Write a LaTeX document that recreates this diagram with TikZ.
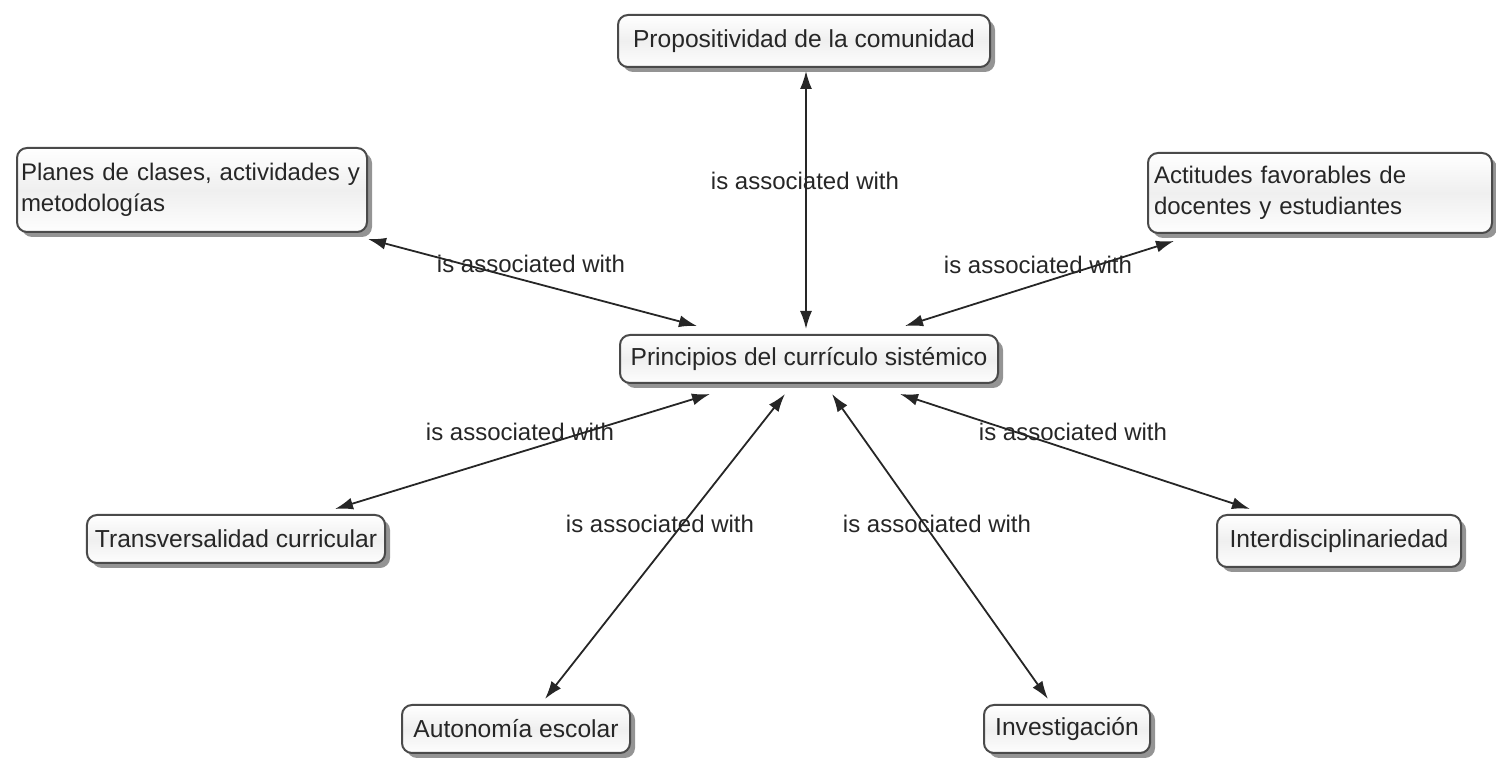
\documentclass[tikz,border=0pt]{standalone}
\usepackage{fontspec}
\setmainfont{Liberation Sans}
\usetikzlibrary{arrows.meta,shadows,calc}
\definecolor{boxline}{HTML}{4A4A4A}
\definecolor{boxfill}{HTML}{EFEFEF}
\definecolor{inktext}{HTML}{262626}
\tikzset{
  concept/.style={draw=boxline, line width=1pt, rounded corners=5pt,
    top color=white, bottom color=boxfill!90!black!4, middle color=boxfill,
    text=inktext, font=\fontsize{12.3pt}{15.5pt}\selectfont,
    drop shadow={shadow xshift=2.5pt, shadow yshift=-2.5pt, fill=black!60, opacity=0.7},
    inner sep=4pt},
  twoline/.style={concept, align=left, text width=#1, font=\fontsize{12pt}{15.5pt}\selectfont,
    inner xsep=2pt, inner ysep=5pt},
  linklabel/.style={text=inktext, font=\fontsize{12pt}{14pt}\selectfont, inner sep=0pt},
  assoc/.style={line width=0.9pt, black!85,
    {Latex[length=9pt,width=6pt]}-{Latex[length=9pt,width=6pt]}}
}
\begin{document}
\begin{tikzpicture}[x=0.5pt,y=-0.5pt]
\useasboundingbox (0,0) rectangle (1496,758);

% concepts
\node[concept, minimum width=186pt, minimum height=26pt] (prop) at (804,41) {Propositividad de la comunidad};
\node[twoline=171pt, minimum height=42pt] (plan) at (192,190)
  {Planes de clases, actividades y\\metodologías};
\node[twoline=166pt, inner xsep=3pt, minimum height=40pt] (act) at (1320,193)
  {Actitudes favorables de\\docentes y estudiantes};
\node[concept, minimum width=189pt, minimum height=24pt] (prin) at (809,359) {Principios del currículo sistémico};
\node[concept, minimum width=149pt, minimum height=24pt] (trans) at (236,539) {Transversalidad curricular};
\node[concept, minimum width=122pt, minimum height=26pt] (inter) at (1339,541) {Interdisciplinariedad};
\node[concept, minimum width=114pt, minimum height=24pt] (auto) at (516,729) {Autonomía escolar};
\node[concept, minimum width=83pt, minimum height=24pt] (inv) at (1067,729) {Investigación};

% connectors
\draw[assoc] ($(prop.south)+(2,3)$) -- ($(prin.north)+(-3,-5)$);
\draw[assoc] ($(plan.south east)+(0,6)$) -- ($(prin.north)+(-112,-8)$);
\draw[assoc] ($(act.south west)+(27,7)$) -- ($(prin.north)+(96,-8)$);
\draw[assoc] ($(trans.north)+(99,-5)$) -- ($(prin.south)+(-99,10)$);
\draw[assoc] ($(auto.north)+(29,-5)$) -- ($(prin.south)+(-24,10)$);
\draw[assoc] ($(inv.north)+(-19,-5)$) -- ($(prin.south)+(23,10)$);
\draw[assoc] ($(inter.north)+(-89,-5)$) -- ($(prin.south)+(91,10)$);

% link labels
\node[linklabel] (l1) at (805,181) {is associated with};
\node[linklabel] (l2) at (531,264) {is associated with};
\node[linklabel] (l3) at (1038,265) {is associated with};
\node[linklabel] (l4) at (520,432) {is associated with};
\node[linklabel] (l5) at (1073,432) {is associated with};
\node[linklabel] (l6) at (660,524) {is associated with};
\node[linklabel] (l7) at (937,524) {is associated with};
\end{tikzpicture}
\end{document}
